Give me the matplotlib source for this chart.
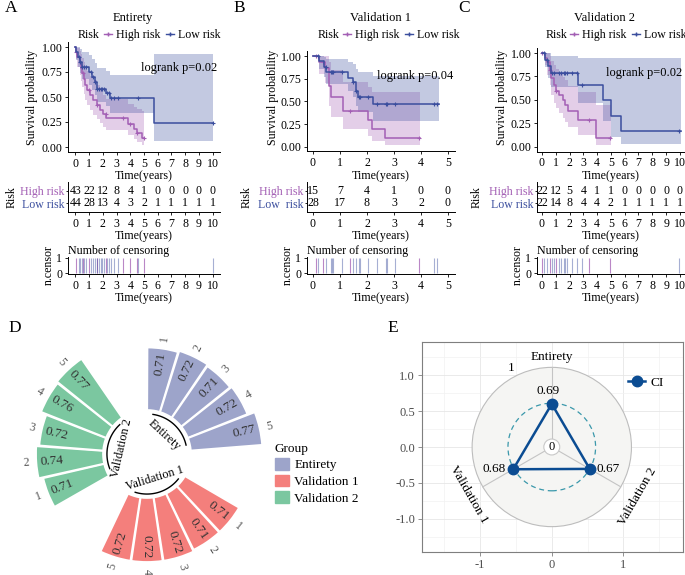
import numpy as np
import matplotlib
matplotlib.use("Agg")
import matplotlib.pyplot as plt
from matplotlib.lines import Line2D
from matplotlib.patches import Patch, Circle

plt.rcParams['font.family'] = ['Liberation Serif', 'DejaVu Serif']
plt.rcParams['axes.linewidth'] = 0.7

# ------------------------------------------------------------------ data
# Panel A (Entirety)
A_high_time = [0, 0.05, 0.15, 0.3, 0.4, 0.5, 0.6, 0.7, 0.85, 1.05, 1.3, 1.55, 1.8, 2.0, 2.25, 3.85, 4.3, 4.5, 4.85]
A_high_surv = [1.0, 0.95, 0.9, 0.84, 0.79, 0.74, 0.68, 0.62, 0.57, 0.52, 0.47, 0.42, 0.37, 0.33, 0.29, 0.23, 0.18, 0.14, 0.09]
A_high_upper = [1.0, 1.0, 0.99, 0.96, 0.93, 0.89, 0.85, 0.8, 0.76, 0.71, 0.67, 0.62, 0.57, 0.52, 0.48, 0.43, 0.4, 0.38, 0.36]
A_high_lower = [1.0, 0.88, 0.8, 0.72, 0.66, 0.6, 0.53, 0.47, 0.42, 0.37, 0.32, 0.28, 0.24, 0.2, 0.17, 0.12, 0.08, 0.05, 0.02]
A_high_end = 5.0
A_high_censor = [0.05, 0.55, 1.0, 1.6, 2.2, 3.5, 4.0, 4.5, 5.0]
A_low_time = [0, 0.05, 0.2, 0.35, 0.5, 1.0, 1.2, 1.45, 1.55, 2.2, 2.5, 5.75]
A_low_surv = [1.0, 0.95, 0.9, 0.85, 0.8, 0.75, 0.7, 0.65, 0.58, 0.54, 0.49, 0.245]
A_low_upper = [1.0, 1.0, 1.0, 0.98, 0.95, 0.92, 0.88, 0.84, 0.79, 0.76, 0.72, 0.93]
A_low_lower = [1.0, 0.87, 0.8, 0.74, 0.68, 0.62, 0.57, 0.52, 0.45, 0.41, 0.34, 0.065]
A_low_end = 10.0
A_low_censor = [0.25, 0.35, 0.5, 0.6, 0.8, 1.15, 1.3, 1.45, 1.55, 1.7, 1.85, 1.95, 2.1, 2.3,
                2.45, 2.6, 2.8, 3.1, 4.55, 10.0]
A_years = [0, 1, 2, 3, 4, 5, 6, 7, 8, 9, 10]
A_risk_high = [43, 22, 12, 8, 4, 1, 0, 0, 0, 0, 0]
A_risk_low = [44, 28, 13, 4, 3, 2, 1, 1, 1, 1, 1]
A_pvalue = "logrank p=0.02"

# Panel B (Validation 1)
B_high_time = [0, 0.22, 0.43, 0.6, 0.68, 1.1, 2.04, 2.2, 2.65]
B_high_surv = [1.0, 0.93, 0.87, 0.67, 0.55, 0.4, 0.3, 0.2, 0.1]
B_high_upper = [1.0, 1.0, 1.0, 0.93, 0.85, 0.72, 0.66, 0.6, 0.6]
B_high_lower = [1.0, 0.8, 0.7, 0.45, 0.33, 0.2, 0.12, 0.06, 0.02]
B_high_end = 3.95
B_high_censor = [0.12, 0.39, 1.36, 3.94]
B_low_time = [0, 0.22, 0.4, 0.5, 1.3, 1.48, 1.58, 1.67, 2.22]
B_low_surv = [1.0, 0.94, 0.88, 0.82, 0.76, 0.71, 0.62, 0.55, 0.47]
B_low_upper = [1.0, 1.0, 0.99, 0.97, 0.94, 0.91, 0.86, 0.82, 0.78]
B_low_lower = [1.0, 0.86, 0.77, 0.69, 0.62, 0.55, 0.45, 0.38, 0.28]
B_low_end = 4.65
B_low_censor = [0.2, 0.49, 0.66, 0.7, 0.75, 1.06, 1.5, 1.58, 1.7, 1.75, 2.03, 2.39, 2.69, 2.75,
                3.03, 4.47, 4.58]
B_years = [0, 1, 2, 3, 4, 5]
B_risk_high = [15, 7, 4, 1, 0, 0]
B_risk_low = [28, 17, 8, 3, 2, 0]
B_pvalue = "logrank p=0.04"

# Panel C (Validation 2)
C_high_time = [0, 0.2, 0.39, 0.56, 0.68, 0.85, 1.0, 1.2, 1.52, 1.64, 1.88, 2.6, 3.9]
C_high_surv = [1.0, 0.95, 0.9, 0.82, 0.73, 0.66, 0.6, 0.55, 0.5, 0.45, 0.38, 0.29, 0.1]
C_high_upper = [1.0, 1.0, 1.0, 0.97, 0.92, 0.87, 0.83, 0.79, 0.75, 0.71, 0.65, 0.58, 0.45]
C_high_lower = [1.0, 0.87, 0.77, 0.66, 0.55, 0.47, 0.41, 0.36, 0.31, 0.27, 0.21, 0.13, 0.02]
C_high_end = 5.0
C_high_censor = [0.02, 0.56, 1.04, 3.4, 4.92]
C_low_time = [0, 0.25, 0.43, 0.68, 2.6, 4.42, 5.02, 5.75]
C_low_surv = [1.0, 0.93, 0.86, 0.79, 0.66, 0.5, 0.33, 0.165]
C_low_upper = [1.0, 1.0, 1.0, 0.97, 0.95, 0.95, 0.95, 0.95]
C_low_lower = [1.0, 0.85, 0.73, 0.64, 0.47, 0.28, 0.11, 0.03]
C_low_end = 10.1
C_low_censor = [0.17, 0.36, 0.73, 0.9, 1.21, 1.38, 1.57, 1.69, 1.82, 2.18, 2.54, 2.9, 9.93]
C_years = [0, 1, 2, 3, 4, 5, 6, 7, 8, 9, 10]
C_risk_high = [22, 12, 5, 4, 1, 1, 0, 0, 0, 0, 0]
C_risk_low = [22, 14, 8, 4, 4, 2, 1, 1, 1, 1, 1]
C_pvalue = "logrank p=0.02"

# Panel D (C-index per fold)
D_groups = ["Entirety", "Validation 1", "Validation 2"]
D_folds = ["1", "2", "3", "4", "5"]
D_entirety = [0.71, 0.72, 0.71, 0.72, 0.77]
D_validation1 = [0.71, 0.71, 0.72, 0.72, 0.72]
D_validation2 = [0.71, 0.74, 0.72, 0.76, 0.77]

# Panel E (radar)
E_axes = ["Entirety", "Validation 1", "Validation 2"]
E_ci_labels = ["0.69", "0.68", "0.67"]
E_ci_drawn = [0.49, 0.51, 0.50]   # radial position on the 0-1 grid as drawn
E_grid = [0, 0.5, 1]

# ------------------------------------------------------------------ style
W, H = 685, 575
HIGH = '#A35FB4'
LOW = '#3B4E9E'
GROUP_COLORS = ['#9DA4CA', '#F47F7C', '#7BC7A0']
NAVY = '#0B4C92'
FS = 8.6

fig = plt.figure(figsize=(W / 100, H / 100), dpi=100)


def add_ax(l, t, r, b, **kw):
    return fig.add_axes([l / W, 1 - b / H, (r - l) / W, (b - t) / H], **kw)


def classic(ax):
    for s in ['top', 'right']:
        ax.spines[s].set_visible(False)
    ax.tick_params(length=2.5, width=0.6, labelsize=FS, pad=1.5, colors='black')


def ftext(x, y, s, **kw):
    fig.text(x / W, 1 - y / H, s, **kw)


panels = [
    dict(letter='A', title='Entirety', lx=5, tx=133, legx=104, riskr=100, ylx=32, riskx=12,
         km=(68, 42, 220, 152), xlim=(-0.54, 10.54),
         high=(A_high_time, A_high_surv, A_high_lower, A_high_upper, A_high_end, A_high_censor),
         low=(A_low_time, A_low_surv, A_low_lower, A_low_upper, A_low_end, A_low_censor),
         years=A_years, rh=A_risk_high, rl=A_risk_low, p=A_pvalue, lowlab='Low risk'),
    dict(letter='B', title='Validation 1', lx=233, tx=380, legx=343, riskr=339, ylx=273, riskx=247,
         km=(307, 51.5, 455, 151.5), xlim=(-0.22, 5.26),
         high=(B_high_time, B_high_surv, B_high_lower, B_high_upper, B_high_end, B_high_censor),
         low=(B_low_time, B_low_surv, B_low_lower, B_low_upper, B_low_end, B_low_censor),
         years=B_years, rh=B_risk_high, rl=B_risk_low, p=B_pvalue, lowlab='Low  risk'),
    dict(letter='C', title='Validation 2', lx=458, tx=605, legx=570, riskr=567, ylx=502, riskx=477,
         km=(537, 48.3, 684, 151.7), xlim=(-0.36, 10.3),
         high=(C_high_time, C_high_surv, C_high_lower, C_high_upper, C_high_end, C_high_censor),
         low=(C_low_time, C_low_surv, C_low_lower, C_low_upper, C_low_end, C_low_censor),
         years=C_years, rh=C_risk_high, rl=C_risk_low, p=C_pvalue, lowlab='Low risk'),
]

for P in panels:
    l, t, r, b = P['km']
    ax = add_ax(l, t, r, b)
    classic(ax)
    for data, col in [(P['high'], HIGH), (P['low'], LOW)]:
        tt, ss, lo, up, tend, cens = data
        x = np.r_[tt, tend]
        ax.fill_between(x, np.r_[lo, lo[-1]], np.r_[up, up[-1]], step='post',
                        color=col, alpha=0.3, lw=0)
        ax.step(x, np.r_[ss, ss[-1]], where='post', color=col, lw=1.1)
        cens = np.asarray(cens)
        idx = np.searchsorted(tt, cens, side='right') - 1
        ax.plot(cens, np.asarray(ss)[idx], '+', color=col, ms=3.5, mew=0.8)
    ax.set_xlim(P['xlim'])
    ax.set_ylim(-0.05, 1.05)
    ax.set_xticks(P['years'])
    ax.set_yticks([0, 0.25, 0.5, 0.75, 1.0])
    ax.set_yticklabels(['0.00', '0.25', '0.50', '0.75', '1.00'])
    ax.set_xlabel('Time(years)', fontsize=FS, labelpad=0.5)
    ax.text(0.73, 0.76, P['p'], transform=ax.transAxes, ha='center', va='center', fontsize=FS + 0.3)
    ftext(P['ylx'], 97, 'Survival probability', rotation=90, ha='center', va='center', fontsize=FS)
    ftext(P['lx'], 8, P['letter'], fontsize=12.5, ha='left', va='center')
    ftext(P['tx'], 18, P['title'], fontsize=FS + 0.4, ha='center', va='center')
    handles = [Line2D([], [], color=HIGH, marker='+', lw=1.0, ms=3.5),
               Line2D([], [], color=LOW, marker='+', lw=1.0, ms=3.5)]
    fig.legend(handles, ['High risk', 'Low risk'], loc='center left',
               bbox_to_anchor=(P['legx'] / W, 1 - 35 / H), ncol=2, frameon=False,
               fontsize=FS, handlelength=0.7, handletextpad=0.3, columnspacing=0.45,
               borderpad=0, borderaxespad=0)
    ftext(P['riskr'], 35, 'Risk', ha='right', va='center', fontsize=FS)

    # risk table
    tax = add_ax(l, 182, r, 212)
    classic(tax)
    for i, yr in enumerate(P['years']):
        tax.text(yr, 1, str(P['rh'][i]), ha='center', va='center', fontsize=FS)
        tax.text(yr, 0, str(P['rl'][i]), ha='center', va='center', fontsize=FS)
    tax.set_xlim(P['xlim'])
    tax.set_ylim(-0.75, 1.75)
    tax.set_xticks(P['years'])
    tax.set_yticks([1, 0])
    tax.set_yticklabels(['High risk', P['lowlab']], fontsize=FS)
    tax.tick_params(axis='y', length=1.5, pad=1)
    for lab, col in zip(tax.get_yticklabels(), [HIGH, LOW]):
        lab.set_color(col)
    tax.set_xlabel('Time(years)', fontsize=FS, labelpad=0.5)
    ftext(P['riskx'], 197, 'Risk', rotation=90, ha='center', va='center', fontsize=FS)

    # censoring plot
    cax = add_ax(l, 257, r, 274)
    classic(cax)
    cax.vlines(P['high'][5], 0, 1, color=HIGH, lw=0.8, alpha=0.75)
    cax.vlines(P['low'][5], 0, 1, color=LOW, lw=0.8, alpha=0.45)
    cax.set_xlim(P['xlim'])
    cax.set_ylim(-0.05, 1.05)
    cax.set_xticks(P['years'])
    cax.set_yticks([0, 1])
    cax.set_xlabel('Time(years)', fontsize=FS, labelpad=0.5)
    cax.set_ylabel('n.censor', fontsize=FS, labelpad=1)
    cax.set_title('Number of censoring', loc='left', fontsize=FS, pad=1.5)

# ------------------------------------------------------------------ panel D
ftext(8, 328, 'D', fontsize=12.5, ha='left', va='center')
pax = add_ax(27, 334, 267, 574, projection='polar')
pax.set_theta_zero_location('N')
pax.set_theta_direction(-1)
pax.set_ylim(0, 0.8)
pax.axis('off')
nslot = 21
slot = 2 * np.pi / nslot
base = 0.293
for gi, (gname, vals) in enumerate(zip(D_groups, [D_entirety, D_validation1, D_validation2])):
    first = gi * 7
    ks = np.arange(first, first + len(vals))
    th = (ks + 0.5) * slot
    pax.bar(th, np.array(vals) - base, bottom=base, width=slot * 0.97,
            color=GROUP_COLORS[gi], edgecolor='white', lw=1.3)
    for k, v, lab in zip(ks, vals, D_folds):
        phi = 360 * (k + 0.5) / nslot
        if phi <= 180:
            rot, ha = 90 - phi, 'right'
        else:
            rot, ha = 270 - phi, 'left'
        pax.text((k + 0.5) * slot, v - 0.025, f'{v:.2f}', rotation=rot, rotation_mode='anchor',
                 ha=ha, va='center', fontsize=9.5, color='#333333')
        pax.text((k + 0.5) * slot, v + 0.065, lab, rotation=rot, rotation_mode='anchor',
                 ha='center', va='center', fontsize=8.5, color='#555555')
    # group arc (first to last bar centre) and name
    t0, t1 = th[0], th[-1]
    arc = np.linspace(t0, t1, 60)
    pax.plot(arc, np.full_like(arc, 0.267), color='black', lw=1.0)
    phic = np.degrees((t0 + t1) / 2)
    rot = -phic
    while rot < -90:
        rot += 180
    while rot > 90:
        rot -= 180
    pax.text((t0 + t1) / 2, 0.17, gname, rotation=rot, rotation_mode='anchor',
             ha='center', va='center', fontsize=8.8)

fig.legend([Patch(color=c) for c in GROUP_COLORS], D_groups, title='Group',
           loc='upper left', bbox_to_anchor=(268 / W, 1 - 436 / H), frameon=False,
           fontsize=9.5, title_fontsize=9.5, handlelength=1.1, handleheight=1.0,
           labelspacing=0.25, handletextpad=0.4, borderpad=0, alignment='left')

# ------------------------------------------------------------------ panel E
ftext(387, 328, 'E', fontsize=12.5, ha='left', va='center')
eax = add_ax(422, 342, 683, 552)
eax.set_xlim(-1.81, 1.83)
eax.set_ylim(-1.465, 1.465)
eax.set_xticks([-1, 0, 1])
eax.set_xticklabels(['-1', '0', '1'])
eax.set_yticks([-1, -0.5, 0, 0.5, 1])
eax.set_yticklabels(['-1.0', '-0.5', '0.0', '0.5', '1.0'])
eax.set_xticks([-1.5, -0.5, 0.5, 1.5], minor=True)
eax.set_yticks([-1.25, -0.75, -0.25, 0.25, 0.75, 1.25], minor=True)
eax.grid(which='major', color='#E6E6E6', lw=0.6)
eax.grid(which='minor', color='#F2F2F2', lw=0.5)
eax.set_axisbelow(True)
for s in eax.spines.values():
    s.set_color('#7F7F7F')
    s.set_linewidth(0.8)
eax.tick_params(which='major', length=3, width=0.6, colors='#7F7F7F', labelcolor='#4D4D4D',
                labelsize=9, pad=2)
eax.tick_params(which='minor', length=0)

offset = (E_grid[-1] - E_grid[0]) / 9.0
rmax = E_grid[-1] + offset
angles = np.radians([90, 210, 330])
eax.add_patch(Circle((0, 0), rmax, fc='#F5F5F3', ec='#BDBDBD', lw=0.8, zorder=1))
for a in angles:
    eax.plot([0, rmax * np.cos(a)], [0, rmax * np.sin(a)], color='#C4C4C4', lw=0.8, zorder=2)
eax.add_patch(Circle((0, 0), E_grid[1] + offset, fill=False, ec='#3A98AB', lw=0.9,
                     ls=(0, (4, 3)), zorder=3))
eax.add_patch(Circle((0, 0), E_grid[0] + offset, fc='white', ec='#C8C8C8', lw=0.8, zorder=3))
eax.text(0, 0, '0', ha='center', va='center', fontsize=9, zorder=4)
eax.text(rmax * 1.12 * np.cos(np.radians(117)), rmax * 1.12 * np.sin(np.radians(117)), '1',
         ha='center', va='center', fontsize=9.5)

r = np.array(E_ci_drawn) + offset
px, py = r * np.cos(angles), r * np.sin(angles)
eax.plot(np.r_[px, px[0]], np.r_[py, py[0]], color=NAVY, lw=1.8, zorder=5)
eax.plot(px, py, 'o', color=NAVY, ms=7.5, zorder=6)
eax.text(px[0] - 0.05, py[0] + 0.18, E_ci_labels[0], ha='center', va='center', fontsize=9.5)
eax.text(px[1] - 0.11, py[1], E_ci_labels[1], ha='right', va='center', fontsize=9.5)
eax.text(px[2] + 0.1, py[2], E_ci_labels[2], ha='left', va='center', fontsize=9.5)

lab_r = [1.26, 1.33, 1.38]
lab_rot = [0, -60, 60]
for a, nm, lr, rot in zip(angles, E_axes, lab_r, lab_rot):
    eax.text(lr * np.cos(a), lr * np.sin(a), nm, ha='center', va='center', rotation=rot,
             fontsize=9.5)

eax.legend([Line2D([], [], color=NAVY, marker='o', lw=1.8, ms=7.5)], ['CI'],
           loc='center left', bbox_to_anchor=(0.79, 0.805), frameon=False, fontsize=9.5,
           handlelength=1.3, handletextpad=0.4, borderpad=0, borderaxespad=0)

fig.savefig('out.png', dpi=100)
